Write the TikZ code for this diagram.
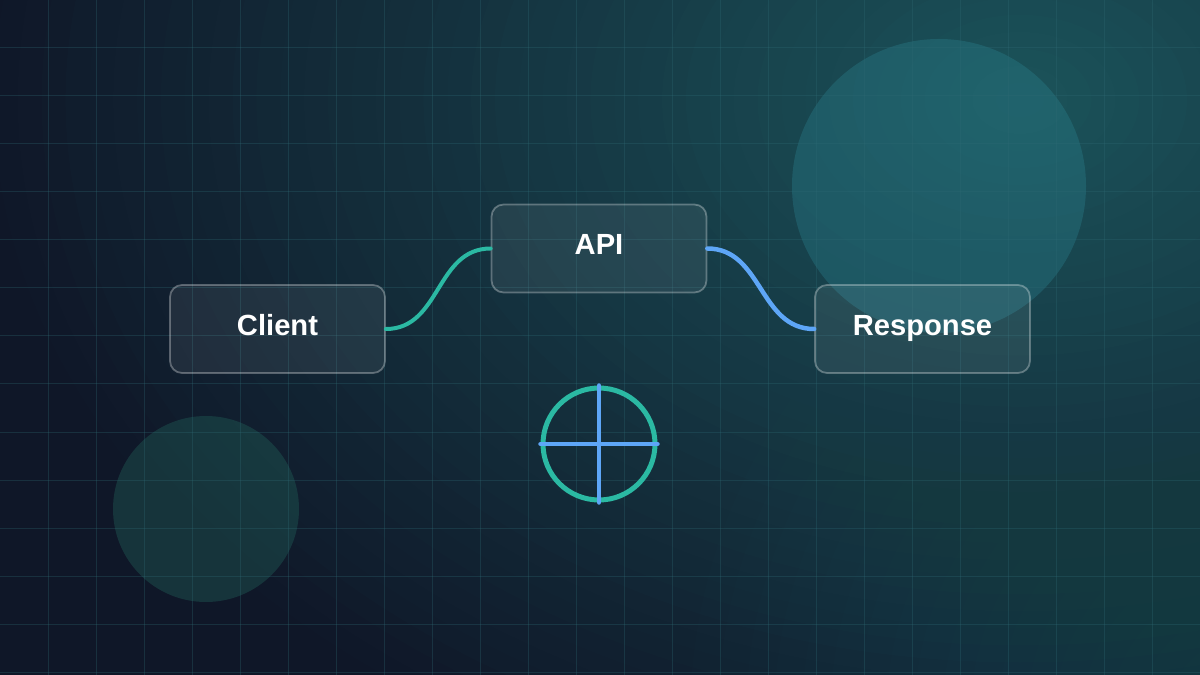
\documentclass[tikz,border=0pt]{standalone}
\usepackage{fontspec}
\setmainfont{Liberation Sans}
\usetikzlibrary{positioning, arrows.meta, calc}
\definecolor{night}{HTML}{0F1728}
\definecolor{lagoon}{HTML}{1B545B}
\definecolor{gridline}{HTML}{2E6A74}
\definecolor{orbbig}{HTML}{2B8290}
\definecolor{orbsmall}{HTML}{216058}
\definecolor{mint}{HTML}{2BB9A3}
\definecolor{sky}{HTML}{5EA6F7}
\tikzset{
  every node/.style = {font=\sffamily, text=white},
  flbox/.style   = {draw=white, draw opacity=0.3, fill=white, fill opacity=0.07, text opacity=1,
                    line width=0.035cm, rounded corners=0.24cm, minimum width=4.3cm,
                    minimum height=1.76cm, text height=0.82em, text depth=0.11em,
                    font=\bfseries\fontsize{16.6}{20}\selectfont},
  flmint/.style  = {draw=mint, line width=0.08cm, line cap=round},
  flsky/.style   = {draw=sky, line width=0.09cm, line cap=round},
  flring/.style  = {circle, draw=mint, line width=0.1cm, inner sep=0pt, minimum size=2.24cm},
  flgrid/.style  = {draw=gridline, draw opacity=0.3, line width=0.02cm},
}

\begin{document}
\begin{tikzpicture}[x=0.02cm, y=-0.02cm]

\useasboundingbox (0,0) rectangle (1200,675);
\begin{scope}
  \clip (0,0) rectangle (1200,675);
  \fill[night] (0,0) rectangle (1200,675);
  % glow, top right, then a weaker one bottom right
  \foreach \i [evaluate=\i as \rx using 1050*(1-\i/44), evaluate=\i as \ry using 750*(1-\i/44),
               evaluate=\i as \p using int(100*\i/44)] in {0,...,43}
    {\fill[lagoon!\p!night] (1020,100) ellipse ({\rx} and {\ry});}
  \foreach \i in {1,...,20}
    {\fill[lagoon, fill opacity=0.035] (1250,720) circle ({28*\i});}
  \fill[orbbig, fill opacity=0.35] (939,186) circle (147);
  \fill[orbsmall, fill opacity=0.4] (206,509) circle (93);
  \foreach \x in {48,96,...,1152}{\draw[flgrid] (\x,0) -- (\x,675);}
  \foreach \y in {48,96,...,672}{\draw[flgrid] (0,\y) -- (1200,\y);}
\end{scope}

\node[flbox] (client)   at (277.5,329) {Client};
\node[flbox] (api)      at (599,248.5) {API};
\node[flbox] (response) at (922.5,329) {Response};

\draw[flmint] (client.east) .. controls +(55,0) and +(-55,0) .. (api.west);
\draw[flsky]  (api.east) .. controls +(55,0) and +(-55,0) .. (response.west);

\node[flring] (ring) at (599,444) {};
\draw[flsky] (ring.west) -- (ring.east);
\draw[flsky] (ring.north) -- (ring.south);
\end{tikzpicture}
\end{document}
